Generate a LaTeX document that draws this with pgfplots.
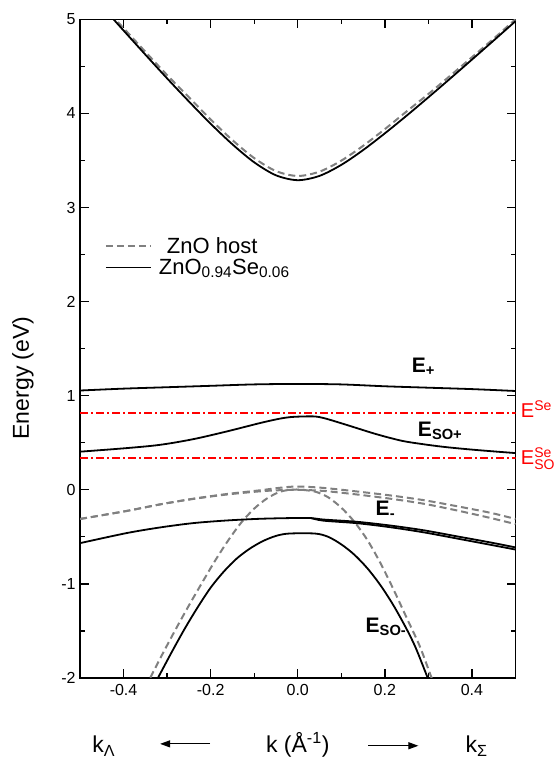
\documentclass[border=0pt]{standalone}
\usepackage{pgfplots}
\pgfplotsset{compat=1.18}
\usepackage{fontspec}
\setmainfont{Liberation Sans}
\usetikzlibrary{arrows.meta,calc}
\definecolor{hostgray}{RGB}{128,128,128}
\definecolor{sered}{RGB}{255,0,0}

\begin{document}
\begin{tikzpicture}
\begin{axis}[
  name=ax,
  scale only axis,
  width=435.5bp, height=658.7bp,
  xmin=-0.5, xmax=0.5, ymin=-2, ymax=5,
  xtick={-0.4,-0.2,0,0.2,0.4},
  xticklabels={-0.4,-0.2,0.0,0.2,0.4},
  minor xtick={-0.3,-0.1,0.1,0.3},
  ytick={-2,-1,0,1,2,3,4,5},
  yticklabels={-2,-1,0,1,2,3,4,5},
  minor ytick={-1.5,-0.5,0.5,1.5,2.5,3.5,4.5},
  tick align=inside,
  major tick length=9bp, minor tick length=5bp,
  tick style={line width=1.3bp, black},
  axis line style={line width=1.5bp},
  ticklabel style={font=\fontsize{16bp}{19bp}\selectfont},
  xticklabel style={yshift=-3bp},
  yticklabel style={xshift=-1bp},
  clip mode=individual,
  legend style={at={(rel axis cs:0.05,0.675)}, anchor=north west, draw=none, fill=none,
    font=\fontsize{22bp}{26bp}\selectfont, row sep=0bp},
  legend cell align=left,
  legend image code/.code={\draw[#1] (0bp,0bp) -- (45bp,0bp); \path (50bp,0bp);},
  host/.style={hostgray, line width=2bp, dash pattern=on 7bp off 4bp},
  se/.style={black, line width=1.8bp},
]
% conduction band
\addplot[host, smooth] coordinates {
(-0.43,5.056) (-0.4,4.906) (-0.35,4.655) (-0.3,4.407) (-0.25,4.172) (-0.2,3.935)
(-0.15,3.716) (-0.1,3.525) (-0.05,3.387) (0,3.335) (0.05,3.381) (0.1,3.498)
(0.15,3.655) (0.2,3.833) (0.25,4.021) (0.3,4.206) (0.35,4.40) (0.4,4.597)
(0.45,4.795) (0.5,5.0)};
\addlegendentry{\hspace{8bp}ZnO host}
\addplot[se, smooth] coordinates {
(-0.43,5.036) (-0.4,4.881) (-0.35,4.625) (-0.3,4.372) (-0.25,4.127) (-0.2,3.890)
(-0.15,3.671) (-0.1,3.480) (-0.05,3.342) (0,3.29) (0.05,3.336) (0.1,3.453)
(0.15,3.610) (0.2,3.788) (0.25,3.976) (0.3,4.171) (0.35,4.370) (0.4,4.572)
(0.45,4.775) (0.5,4.98)};
\addlegendentry{ZnO\textsubscript{0.94}Se\textsubscript{0.06}}
% Se levels
\addplot[sered, line width=1.5bp, dash pattern=on 8bp off 3bp on 2bp off 3bp, forget plot]
  coordinates {(-0.5,0.815) (0.5,0.815)};
\addplot[sered, line width=1.5bp, dash pattern=on 8bp off 3bp on 2bp off 3bp, forget plot]
  coordinates {(-0.5,0.337) (0.5,0.337)};
% E+
\addplot[se, smooth, forget plot] coordinates {
(-0.5,1.055) (-0.4,1.075) (-0.3,1.09) (-0.2,1.105) (-0.1,1.12) (0,1.125)
(0.1,1.12) (0.2,1.10) (0.3,1.085) (0.4,1.07) (0.5,1.05)};
% ESO+
\addplot[se, smooth, forget plot] coordinates {
(-0.5,0.405) (-0.393,0.443) (-0.316,0.478) (-0.24,0.538) (-0.163,0.62) (-0.086,0.71)
(-0.04,0.757) (-0.01,0.775) (0.036,0.78) (0.06,0.762) (0.098,0.71) (0.136,0.655)
(0.174,0.60) (0.213,0.55) (0.251,0.51) (0.328,0.46) (0.405,0.425) (0.5,0.39)};
% host valence bands A, B
\addplot[host, smooth, forget plot] coordinates {
(-0.5,-0.31) (-0.393,-0.225) (-0.316,-0.155) (-0.24,-0.095) (-0.163,-0.045)
(-0.086,-0.005) (-0.04,0.022) (0,0.035) (0.059,0.02) (0.136,-0.018) (0.213,-0.06)
(0.289,-0.11) (0.366,-0.175) (0.443,-0.245) (0.5,-0.31)};
\addplot[host, smooth, forget plot] coordinates {
(-0.5,-0.31) (-0.393,-0.225) (-0.316,-0.155) (-0.24,-0.097) (-0.163,-0.05)
(-0.086,-0.016) (-0.04,-0.004) (0,0.0) (0.059,-0.012) (0.136,-0.05) (0.213,-0.095)
(0.289,-0.148) (0.366,-0.22) (0.443,-0.30) (0.5,-0.365)};
% host C band (steep)
\addplot[host, smooth, forget plot] coordinates {
(-0.35,-2.10) (-0.34,-2.01) (-0.31,-1.74) (-0.28,-1.48) (-0.25,-1.23) (-0.22,-0.99)
(-0.19,-0.755) (-0.16,-0.54) (-0.13,-0.35) (-0.10,-0.20) (-0.07,-0.09) (-0.04,-0.02)
(-0.01,0.003) (0.02,-0.005) (0.044,-0.025) (0.07,-0.08) (0.10,-0.19) (0.13,-0.34)
(0.16,-0.535) (0.19,-0.78) (0.22,-1.06) (0.25,-1.36) (0.28,-1.66) (0.305,-1.97) (0.315,-2.09)};
% E-
\addplot[se, smooth, forget plot] coordinates {
(-0.5,-0.567) (-0.393,-0.46) (-0.316,-0.40) (-0.24,-0.354) (-0.163,-0.326)
(-0.086,-0.308) (-0.01,-0.30) (0.03,-0.30) (0.059,-0.316) (0.136,-0.340)
(0.213,-0.38) (0.289,-0.43) (0.366,-0.495) (0.443,-0.56) (0.5,-0.612)};
\addplot[se, smooth, forget plot] coordinates {
(0.03,-0.30) (0.059,-0.328) (0.136,-0.355) (0.213,-0.398) (0.289,-0.452)
(0.366,-0.518) (0.443,-0.585) (0.5,-0.635)};
% ESO-
\addplot[se, smooth, forget plot] coordinates {
(-0.33,-2.07) (-0.32,-1.99) (-0.29,-1.73) (-0.26,-1.48) (-0.23,-1.25) (-0.20,-1.04)
(-0.17,-0.87) (-0.14,-0.73) (-0.11,-0.625) (-0.08,-0.545) (-0.05,-0.49) (-0.02,-0.465)
(0.04,-0.465) (0.07,-0.50) (0.10,-0.58) (0.13,-0.69) (0.16,-0.835) (0.19,-1.015)
(0.22,-1.23) (0.25,-1.48) (0.27,-1.67) (0.29,-1.90) (0.30,-2.02) (0.305,-2.08)};
% band labels
\node[anchor=base west, font=\fontsize{21bp}{24bp}\selectfont\bfseries] at (axis cs:0.254,1.243) {E\textsubscript{+}};
\node[anchor=base west, font=\fontsize{21bp}{24bp}\selectfont\bfseries] at (axis cs:0.268,0.563) {E\textsubscript{SO+}};
\node[anchor=base west, font=\fontsize{21bp}{24bp}\selectfont\bfseries] at (axis cs:0.171,-0.276) {E\textsubscript{-}};
\node[anchor=base west, font=\fontsize{21bp}{24bp}\selectfont\bfseries] at (axis cs:0.148,-1.52) {E\textsubscript{SO-}};
\node[anchor=base west, sered, inner sep=0pt, font=\fontsize{20bp}{24bp}\selectfont] at (axis cs:0.512,0.765) {E\textsuperscript{Se}};
\node[anchor=base west, sered, inner sep=0pt, font=\fontsize{20bp}{24bp}\selectfont] at (axis cs:0.512,0.266) {$\mathrm{E}^{\mathrm{Se}}_{\mathrm{SO}}$};
% k axis annotation
\node[anchor=base, font=\fontsize{23bp}{27bp}\selectfont] at (axis cs:0,-2.795) {k (Å\textsuperscript{-1})};
\node[anchor=base west, inner sep=0pt, font=\fontsize{23bp}{27bp}\selectfont] at (axis cs:-0.472,-2.795) {k\textsubscript{Λ}};
\node[anchor=base west, inner sep=0pt, font=\fontsize{23bp}{27bp}\selectfont] at (axis cs:0.385,-2.795) {k\textsubscript{Σ}};
\draw[-{Triangle[length=10bp,width=7bp]}, line width=1.2bp] (axis cs:-0.201,-2.70) -- (axis cs:-0.316,-2.70);
\draw[-{Triangle[length=10bp,width=7bp]}, line width=1.2bp] (axis cs:0.162,-2.72) -- (axis cs:0.277,-2.72);
\end{axis}
\node[rotate=90, font=\fontsize{23bp}{27bp}\selectfont] at ($(ax.south west)+(-57bp,300bp)$) {Energy (eV)};
\pgfresetboundingbox
\path[use as bounding box] ($(ax.south west)+(-80bp,-82bp)$) rectangle ($(ax.north east)+(41.5bp,19.3bp)$);
\end{tikzpicture}
\end{document}
